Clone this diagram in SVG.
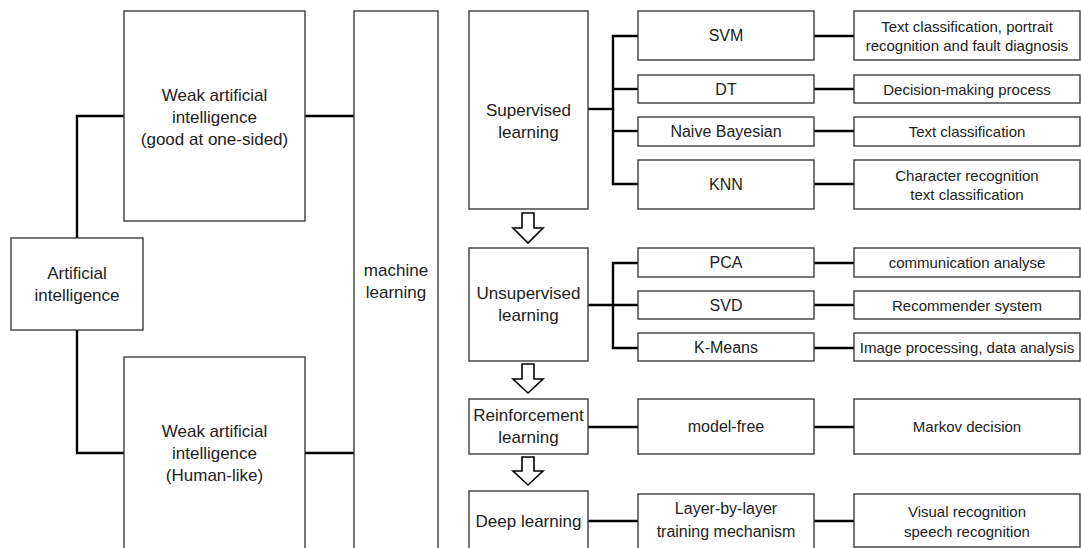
<svg xmlns="http://www.w3.org/2000/svg" width="1081" height="548" viewBox="0 0 1081 548">
  <style>
    .box { fill: #ffffff; stroke: #3c3c3c; stroke-width: 1.4; }
    .link { fill: none; stroke: #000000; stroke-width: 2.4; }
    .flow { fill: #ffffff; stroke: #000000; stroke-width: 1.6; stroke-linejoin: miter; }
    text { font-family: "Liberation Sans", Arial, sans-serif; fill: #222222; text-anchor: middle; }
    .t17 { font-size: 17px; }
    .t16 { font-size: 16px; }
    .t15 { font-size: 15px; }
  </style>
  <rect width="1081" height="548" fill="#ffffff"/>

  <!-- connectors -->
  <g id="connectors">
    <!-- AI hierarchy -->
    <path class="link" d="M124,116 H77 V238"/>
    <path class="link" d="M77,330 V453 H124"/>
    <path class="link" d="M305,116 H354"/>
    <path class="link" d="M305,453 H354"/>
    <!-- supervised learning -->
    <path class="link" d="M588,109 H613"/>
    <path class="link" d="M638,36 H613 V184 H638"/>
    <path class="link" d="M613,89 H638"/>
    <path class="link" d="M613,131 H638"/>
    <path class="link" d="M814,36 H854"/>
    <path class="link" d="M814,89 H854"/>
    <path class="link" d="M814,131 H854"/>
    <path class="link" d="M814,184 H854"/>
    <!-- unsupervised learning -->
    <path class="link" d="M588,305 H638"/>
    <path class="link" d="M638,263 H613 V348 H638"/>
    <path class="link" d="M814,263 H854"/>
    <path class="link" d="M814,305 H854"/>
    <path class="link" d="M814,348 H854"/>
    <!-- reinforcement / deep learning -->
    <path class="link" d="M588,427 H638"/>
    <path class="link" d="M814,427 H854"/>
    <path class="link" d="M588,521 H638"/>
    <path class="link" d="M814,521 H854"/>
    <!-- hollow flow arrows between learning paradigms -->
    <path class="flow" d="M522,213 H534 V228 H543 L528,243 L513,228 H522 Z"/>
    <path class="flow" d="M522,364 H534 V379 H543 L528,393 L513,379 H522 Z"/>
    <path class="flow" d="M522,457 H534 V471 H543 L528,485 L513,471 H522 Z"/>
  </g>

  <!-- left column -->
  <g id="ai">
    <rect class="box" x="11" y="238" width="132" height="92"/>
    <text class="t17" x="77" y="279">Artificial</text>
    <text class="t17" x="77" y="301">intelligence</text>
  </g>
  <g id="weak-ai-one-sided">
    <rect class="box" x="124" y="11" width="181" height="210"/>
    <text class="t17" x="214.5" y="101">Weak artificial</text>
    <text class="t17" x="214.5" y="123">intelligence</text>
    <text class="t17" x="214.5" y="145">(good at one-sided)</text>
  </g>
  <g id="weak-ai-human-like">
    <rect class="box" x="124" y="357" width="181" height="200"/>
    <text class="t17" x="214.5" y="437">Weak artificial</text>
    <text class="t17" x="214.5" y="459">intelligence</text>
    <text class="t17" x="214.5" y="481">(Human-like)</text>
  </g>
  <g id="machine-learning">
    <rect class="box" x="354" y="11" width="84" height="546"/>
    <text class="t17" x="396" y="276">machine</text>
    <text class="t17" x="396" y="298">learning</text>
  </g>

  <!-- learning paradigms -->
  <g id="supervised">
    <rect class="box" x="469" y="11" width="119" height="198"/>
    <text class="t17" x="528.5" y="116">Supervised</text>
    <text class="t17" x="528.5" y="138">learning</text>
  </g>
  <g id="unsupervised">
    <rect class="box" x="469" y="248" width="119" height="113"/>
    <text class="t17" x="528.5" y="299">Unsupervised</text>
    <text class="t17" x="528.5" y="321">learning</text>
  </g>
  <g id="reinforcement">
    <rect class="box" x="469" y="399" width="119" height="55"/>
    <text class="t17" x="528.5" y="421">Reinforcement</text>
    <text class="t17" x="528.5" y="443">learning</text>
  </g>
  <g id="deep">
    <rect class="box" x="469" y="491" width="119" height="66"/>
    <text class="t17" x="528.5" y="527">Deep learning</text>
  </g>

  <!-- algorithms -->
  <g id="svm">
    <rect class="box" x="638" y="11" width="176" height="49"/>
    <text class="t16" x="726" y="41">SVM</text>
  </g>
  <g id="dt">
    <rect class="box" x="638" y="75" width="176" height="28"/>
    <text class="t16" x="726" y="95">DT</text>
  </g>
  <g id="naive-bayesian">
    <rect class="box" x="638" y="117" width="176" height="29"/>
    <text class="t16" x="726" y="137">Naive Bayesian</text>
  </g>
  <g id="knn">
    <rect class="box" x="638" y="160" width="176" height="49"/>
    <text class="t16" x="726" y="190">KNN</text>
  </g>
  <g id="pca">
    <rect class="box" x="638" y="248" width="176" height="29"/>
    <text class="t16" x="726" y="268">PCA</text>
  </g>
  <g id="svd">
    <rect class="box" x="638" y="291" width="176" height="28"/>
    <text class="t16" x="726" y="311">SVD</text>
  </g>
  <g id="k-means">
    <rect class="box" x="638" y="333" width="176" height="28"/>
    <text class="t16" x="726" y="353">K-Means</text>
  </g>
  <g id="model-free">
    <rect class="box" x="638" y="399" width="176" height="55"/>
    <text class="t16" x="726" y="432">model-free</text>
  </g>
  <g id="layer-by-layer">
    <rect class="box" x="638" y="494" width="176" height="63"/>
    <text class="t16" x="726" y="514">Layer-by-layer</text>
    <text class="t16" x="726" y="537">training mechanism</text>
  </g>

  <!-- applications -->
  <g id="app-svm">
    <rect class="box" x="854" y="11" width="226" height="49"/>
    <text class="t15" x="967" y="32">Text classification, portrait</text>
    <text class="t15" x="967" y="51">recognition and fault diagnosis</text>
  </g>
  <g id="app-dt">
    <rect class="box" x="854" y="75" width="226" height="28"/>
    <text class="t15" x="967" y="95">Decision-making process</text>
  </g>
  <g id="app-nb">
    <rect class="box" x="854" y="117" width="226" height="29"/>
    <text class="t15" x="967" y="137">Text classification</text>
  </g>
  <g id="app-knn">
    <rect class="box" x="854" y="160" width="226" height="49"/>
    <text class="t15" x="967" y="181">Character recognition</text>
    <text class="t15" x="967" y="200">text classification</text>
  </g>
  <g id="app-pca">
    <rect class="box" x="854" y="248" width="226" height="29"/>
    <text class="t15" x="967" y="268">communication analyse</text>
  </g>
  <g id="app-svd">
    <rect class="box" x="854" y="291" width="226" height="28"/>
    <text class="t15" x="967" y="311">Recommender system</text>
  </g>
  <g id="app-k-means">
    <rect class="box" x="854" y="333" width="226" height="28"/>
    <text class="t15" x="967" y="353">Image processing, data analysis</text>
  </g>
  <g id="app-model-free">
    <rect class="box" x="854" y="399" width="226" height="55"/>
    <text class="t15" x="967" y="432">Markov decision</text>
  </g>
  <g id="app-layer">
    <rect class="box" x="854" y="494" width="226" height="53"/>
    <text class="t15" x="967" y="517">Visual recognition</text>
    <text class="t15" x="967" y="537">speech recognition</text>
  </g>
</svg>
